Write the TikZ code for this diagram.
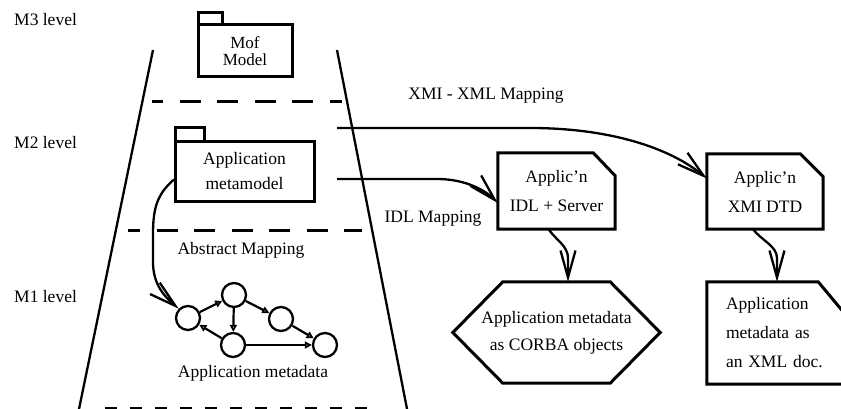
\documentclass[tikz,border=0pt]{standalone}
\usepackage{fontspec}
\setmainfont{Liberation Serif}
\usetikzlibrary{arrows.meta,calc}

\tikzset{
  level/.style={anchor=west, inner sep=0pt},
  lbl/.style={inner sep=0pt},
  trapline/.style={line width=2.3pt},
  levelsep/.style={line width=3pt, dash pattern=on 21pt off 16.5pt},
  pkg/.style={draw, line width=3pt, align=center, inner sep=0pt, outer sep=0pt},
  pkgtab/.style={line width=3pt, line join=miter},
  boxline/.style={line width=3pt, line join=miter},
  mapping/.style={line width=2.3pt, -{Straight Barb[length=27pt,width=15pt,line width=2.3pt]}},
  vertex/.style={circle, draw, line width=2.3pt, minimum size=24pt, inner sep=0pt},
  edge/.style={line width=2.2pt, -{Triangle[open,length=7pt,width=7pt,line width=1.8pt]}},
}

\begin{document}
\begin{tikzpicture}[x=1pt, y=-1pt, font=\fontsize{17.5}{21}\selectfont]
\useasboundingbox (0,0) rectangle (841,409);

% meta-levels
\node[level] (m3) at (14,20) {M3 level};
\node[level] (m2) at (14,143) {M2 level};
\node[level] (m1) at (14,297) {M1 level};

% the trapezoid of the repository
\draw[trapline] (153,50) -- (78.4,412);
\draw[trapline] (337,50) -- (407.6,412);
\draw[levelsep, dash phase=10pt] (152,102) -- (342,102);
\draw[levelsep, dash phase=9pt] (128,230) -- (362,230);
\draw[line width=1.8pt, dash pattern=on 12pt off 13pt] (105,408) -- (368,408);

% M3: MOF model package
\node[pkg, minimum width=94pt, minimum height=52pt, font=\fontsize{17}{17}\selectfont]
  (mof) at (245,51) {Mof\\Model};
\draw[pkgtab] (mof.north west) rectangle ++(24,-12);

% M2: application metamodel package
\node[pkg, minimum width=139pt, minimum height=59pt, font=\fontsize{17.5}{25}\selectfont]
  (app) at (244.5,171.5) {Application\\metamodel};
\draw[pkgtab] (app.north west) rectangle ++(29,-14);

% mapping targets
\node[align=center, minimum width=117pt, minimum height=76pt, inner sep=0pt,
      font=\fontsize{17.5}{29}\selectfont] (idl) at (556.5,191) {Applic'n\\IDL + Server};
\draw[boxline] (idl.south west) -- (idl.north west) -- ([xshift=-22pt]idl.north east)
  -- ([yshift=-23pt]idl.north east) -- (idl.south east) -- cycle;

\node[align=center, minimum width=116pt, minimum height=75pt, inner sep=0pt,
      font=\fontsize{17.5}{29}\selectfont] (xmi) at (765,191.5) {Applic'n\\XMI DTD};
\draw[boxline] (xmi.south west) -- (xmi.north west) -- ([xshift=-23pt]xmi.north east)
  -- ([yshift=-23pt]xmi.north east) -- (xmi.south east) -- cycle;

\node[align=center, minimum width=207pt, minimum height=101pt, inner sep=0pt,
      font=\fontsize{17.5}{27}\selectfont] (corba) at (556.5,332.5)
  {Application metadata\\as CORBA objects};
\draw[boxline] (corba.west) -- ([xshift=50pt]corba.north west) -- ([xshift=-50pt]corba.north east)
  -- (corba.east) -- ([xshift=-50pt]corba.south east) -- ([xshift=50pt]corba.south west) -- cycle;

\node[align=left, text width=98pt, inner xsep=19pt, inner ysep=0pt, minimum height=102pt,
      font=\fontsize{17.5}{29}\selectfont] (xmldoc) at (775,333)
  {Application\\metadata as\\an XML doc.};
\draw[boxline] (xmldoc.south west) -- (xmldoc.north west) -- ([xshift=-25pt]xmldoc.north east)
  -- ([yshift=-30pt]xmldoc.north east) -- (xmldoc.south east) -- cycle;

% M1: application metadata graph
\node[vertex] (c1) at (188,318) {};
\node[vertex] (c2) at (234,295) {};
\node[vertex] (c3) at (281,319) {};
\node[vertex] (c4) at (233,345) {};
\node[vertex] (c5) at (325,345) {};
\draw[edge] (c1) -- (c2);
\draw[edge] (c2) -- (c4);
\draw[edge] (c2) -- (c3);
\draw[edge] (c3) -- (c5);
\draw[edge] (c4) -- (c5);
\draw[edge] (c4) -- (c1);

% labels
\node[lbl] (xmilbl) at (486,96) {XMI - XML Mapping};
\node[lbl] (idllbl) at (433,219) {IDL Mapping};
\node[lbl] (abslbl) at (241,250) {Abstract Mapping};
\node[lbl] (metalbl) at (253,373) {Application metadata};

% mappings
\coordinate (xmistart) at (337,128);
\coordinate (idlstart) at (337,179);
\draw[mapping] (xmistart) -- (530,128) .. controls (610,128) and (670,148) .. ($(xmi.west)+(0,-13)$);
\draw[mapping] (idlstart) -- (437,179) .. controls (465,179) and (485,190) .. ($(idl.west)+(0,12)$);
\draw[mapping] ($(app.west)+(-1,8)$) .. controls (156,195) and (153,210) .. (153,235)
  -- (153,262) .. controls (153,285) and (165,297) .. (c1.north west);
\draw[mapping] ($(idl.south)+(-8,0)$) .. controls (556,240) and (568,246) .. (568,258)
  -- ($(corba.north)+(11.5,0)$);
\draw[mapping] ($(xmi.south)+(-12,0)$) .. controls (761,240) and (777,246) .. (777,258)
  -- ($(xmldoc.north)+(2,0)$);
\end{tikzpicture}
\end{document}
